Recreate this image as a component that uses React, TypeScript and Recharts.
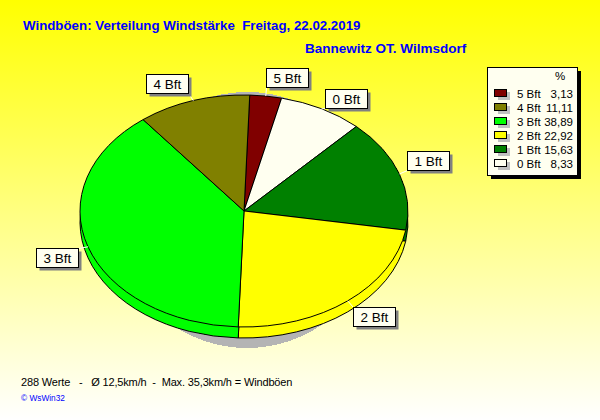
import React from 'react';
import { PieChart, Pie, Cell, Sector, Legend } from 'recharts';

const TITLE = 'Windböen: Verteilung Windstärke  Freitag, 22.02.2019';
const SUBTITLE = 'Bannewitz OT. Wilmsdorf';
const FOOTER = '288 Werte   -   Ø 12,5km/h  -  Max. 35,3km/h = Windböen';

// slice order as drawn, clockwise from the top
const names = ['5 Bft', '0 Bft', '1 Bft', '2 Bft', '3 Bft', '4 Bft'];
const values = [3.13, 8.33, 15.63, 22.92, 38.89, 11.11];
const colors = ['#800000', '#fffff0', '#008000', '#ffff00', '#00ff00', '#808000'];

const legendNames = ['5 Bft', '4 Bft', '3 Bft', '2 Bft', '1 Bft', '0 Bft'];
const legendValues = ['3,13', '11,11', '38,89', '22,92', '15,63', '8,33'];
const legendColors = ['#800000', '#808000', '#00ff00', '#ffff00', '#008000', '#fffff0'];

const data = names.map((name, i) => ({ name, value: values[i] }));
const shadowData = [{ name: 'shadow', value: 100 }];

const CX = 244;
const CY = 211;
const RX = 164;
const RY = 116;
const DEPTH = 11;
const START = 88;

const FONT = '"Liberation Sans", Arial, sans-serif';

// box offset from the rim point, per label
const labelOffsets: Record<string, [number, number]> = {
  '5 Bft': [0, -28],
  '0 Bft': [3, -20],
  '1 Bft': [8, -23],
  '2 Bft': [5, 6],
  '3 Bft': [-52, 1],
  '4 Bft': [-47, -27],
};

// pie is a flat circle squashed into an ellipse
const squash = (ratio: number, dy = 0) => (props: any) => (
  <g transform={`translate(0 ${props.cy + dy}) scale(1 ${ratio}) translate(0 ${-props.cy})`}>
    <Sector {...props} vectorEffect="non-scaling-stroke" shapeRendering="crispEdges" />
  </g>
);

const BoxLabel = (props: any) => {
  const rad = (props.midAngle * Math.PI) / 180;
  const x = CX + RX * Math.cos(rad);
  const y = CY - RY * Math.sin(rad);
  const [dx, dy] = labelOffsets[props.name];
  const bx = Math.round(x + dx) + 0.5;
  const by = Math.round(y + dy) + 0.5;
  const inX = Math.max(bx, Math.min(x, bx + 42));
  const inY = Math.max(by, Math.min(y, by + 19));
  return (
    <g>
      <line x1={x} y1={y} x2={inX} y2={inY} stroke="#ffffff" />
      <rect x={bx + 3} y={by + 3} width={42} height={19} fill="#808080" />
      <rect x={bx} y={by} width={42} height={19} fill="#fffff0" stroke="#000000" shapeRendering="crispEdges" />
      <text x={bx + 21} y={by + 14.5} textAnchor="middle" fontFamily={FONT} fontSize={13.5} fill="#000000">
        {props.name}
      </text>
    </g>
  );
};

const LegendBox = () => (
  <svg width={94} height={112} style={{ display: 'block' }}>
    <rect x={4} y={4} width={90} height={108} fill="#000000" />
    <rect x={0.5} y={0.5} width={90} height={108} fill="#fffff0" stroke="#000000" />
    <text x={73} y={13} textAnchor="middle" fontFamily={FONT} fontSize={11.5} fill="#000000">%</text>
    {legendNames.map((name, i) => {
      const y = 22.5 + i * 14;
      return (
        <g key={name}>
          <rect x={11} y={y + 2.5} width={12} height={8} fill="#c0c0c0" />
          <rect x={7.5} y={y} width={12} height={7} fill={legendColors[i]} stroke="#000000" />
          <text x={30} y={y + 8} fontFamily={FONT} fontSize={11.5} fill="#000000">{name}</text>
          <text x={86} y={y + 8} textAnchor="end" fontFamily={FONT} fontSize={11.5} fill="#000000">{legendValues[i]}</text>
        </g>
      );
    })}
  </svg>
);

export default function App() {
  return (
    <div
      style={{
        position: 'absolute',
        left: 0,
        top: 0,
        width: 600,
        height: 420,
        background: 'linear-gradient(180deg, #ffff00 0%, #ffffff 100%)',
      }}
    >
      <PieChart width={600} height={420} margin={{ top: 0, right: 0, bottom: 0, left: 0 }}>
        <text x={23} y={30} fontFamily={FONT} fontSize={13.3} fontWeight="bold" fill="#0000ff" style={{ whiteSpace: 'pre' }}>
          {TITLE}
        </text>
        <text x={305} y={53} fontFamily={FONT} fontSize={13.5} fontWeight="bold" fill="#0000ff">
          {SUBTITLE}
        </text>
        <text x={21} y={386} fontFamily={FONT} fontSize={11} letterSpacing={-0.15} fill="#000000" style={{ whiteSpace: 'pre' }}>
          {FOOTER}
        </text>
        <text x={21} y={401} fontFamily={FONT} fontSize={8.3} fill="#0000ff">
          © WsWin32
        </text>

        {/* grey drop shadow behind the disc */}
        <Pie
          data={shadowData}
          dataKey="value"
          cx={247}
          cy={220}
          outerRadius={130}
          startAngle={90}
          endAngle={-270}
          fill="#b4b4b4"
          stroke="none"
          legendType="none"
          shape={squash(128 / 130)}
          isAnimationActive={false}
        />
        {/* side wall */}
        <Pie
          data={data}
          dataKey="value"
          cx={CX}
          cy={CY}
          outerRadius={RX}
          startAngle={START}
          endAngle={START - 360}
          stroke="#000000"
          strokeWidth={1}
          legendType="none"
          shape={squash(RY / RX, DEPTH)}
          isAnimationActive={false}
        >
          {data.map((d, i) => (
            <Cell key={d.name} fill={colors[i]} />
          ))}
        </Pie>
        {/* top face */}
        <Pie
          data={data}
          dataKey="value"
          cx={CX}
          cy={CY}
          outerRadius={RX}
          startAngle={START}
          endAngle={START - 360}
          stroke="#000000"
          strokeWidth={1}
          legendType="none"
          shape={squash(RY / RX)}
          label={BoxLabel}
          labelLine={false}
          isAnimationActive={false}
        >
          {data.map((d, i) => (
            <Cell key={d.name} fill={colors[i]} />
          ))}
        </Pie>
        <Legend
          content={() => <LegendBox />}
          wrapperStyle={{ position: 'absolute', left: 487, top: 67, width: 94, height: 112 }}
        />
      </PieChart>
    </div>
  );
}
